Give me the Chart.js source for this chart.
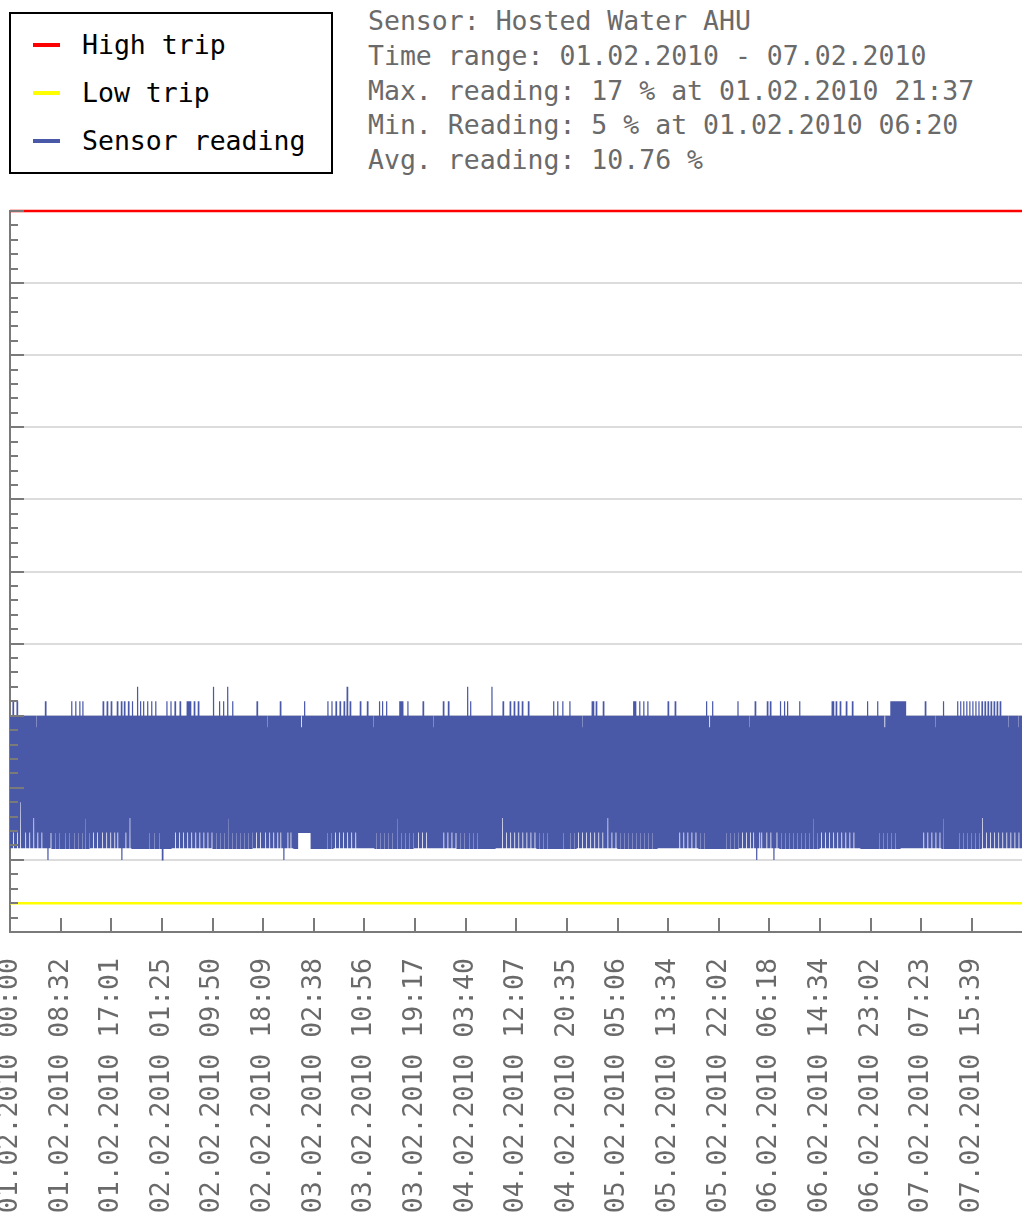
<!DOCTYPE html>
<html>
<head>
<meta charset="utf-8">
<script src="https://cdn.jsdelivr.net/npm/chart.js@4.4.0/dist/chart.umd.min.js"></script>
<style>
html,body{margin:0;padding:0;width:1022px;height:1214px;overflow:hidden;background:#fff;}
body{position:relative;font-family:"DejaVu Sans Mono",monospace;}
#legend{position:absolute;left:9px;top:12px;width:324px;height:162px;border:2px solid #000;box-sizing:border-box;}
.item{position:absolute;left:0;width:300px;height:34px;}
.sym{position:absolute;left:22px;top:15px;width:27px;height:4px;}
.lbl{position:absolute;left:71px;top:0;line-height:34px;font-size:26.5px;color:#000;white-space:nowrap;}
#info{position:absolute;left:368px;top:4px;font-size:26.5px;line-height:34.75px;color:#6a6a6a;white-space:pre;}
#wrap{position:absolute;left:0;top:190px;width:1022px;height:1110px;}
</style>
</head>
<body>
<div id="legend"></div>
<div id="info"></div>
<div id="wrap"><canvas id="c"></canvas></div>
<script>
// ---- data ----
const seriesNames = ["High trip", "Low trip", "Sensor reading"];
const highTrip = 50;
const lowTrip = 2;
const infoLines = [
  "Sensor: Hosted Water AHU",
  "Time range: 01.02.2010 - 07.02.2010",
  "Max. reading: 17 % at 01.02.2010 21:37",
  "Min. Reading: 5 % at 01.02.2010 06:20",
  "Avg. reading: 10.76 %"
];
const tickLabels = [
  "01.02.2010 00:00","01.02.2010 08:32","01.02.2010 17:01","02.02.2010 01:25",
  "02.02.2010 09:50","02.02.2010 18:09","03.02.2010 02:38","03.02.2010 10:56",
  "03.02.2010 19:17","04.02.2010 03:40","04.02.2010 12:07","04.02.2010 20:35",
  "05.02.2010 05:06","05.02.2010 13:34","05.02.2010 22:02","06.02.2010 06:18",
  "06.02.2010 14:34","06.02.2010 23:02","07.02.2010 07:23","07.02.2010 15:39"
];
const samplesPerTick = 100;
// upper readings of each oscillation (one per pair of samples)
const highs = [
15,15,15,16,15,15,15,16,15,15,15,15,15,15,15,15,15,15,15,15,15,15,15,15,15,15,14.2,15,15,15,15,15,15,15,15,16,15,15,15,15,15,15,15,15,15,15,15,15,15,15,
15,15,15,15,15,15,15,15,15,15,15,16,15,15,15,16,15,15,15,16,15,15,16,15,15,15,15,15,15,15,15,15,15,15,15,15,15,15,15,15,15,15,16,15,15,15,16,15,15,15,
16,15,15,15,15,15,16,15,15,15,16,15,15,16,15,15,15,16,15,15,15,16,15,15,15,15,17,15,15,16,15,15,16,15,15,15,16,15,15,15,16,15,15,15,16,15,15,15,15,15,
15,15,15,15,15,16,15,15,15,16,15,15,15,16,15,15,15,15,16,15,15,15,15,15,15,16,16,16,16,15,15,15,16,15,15,15,16,15,15,15,15,15,15,15,15,15,15,15,15,15,
15,17,15,15,15,15,15,16,15,15,15,16,15,15,15,17,15,15,15,15,16,15,15,15,15,15,15,15,15,15,15,15,15,15,15,15,15,15,15,15,15,15,15,15,16,15,15,15,15,15,
15,15,15,15,14.2,15,15,15,15,15,15,15,15,15,15,15,15,16,15,15,15,15,15,15,15,15,15,15,15,15,15,15,15,15,15,15,15,15,14.2,15,15,16,15,15,15,15,15,15,15,15,
15,15,15,15,15,15,15,15,15,15,15,15,15,15,16,15,15,15,16,15,15,15,16,15,15,15,16,15,15,15,16,15,15,17,15,15,16,15,15,15,15,15,15,15,15,15,16,15,15,15,
15,15,15,16,15,15,15,15,15,14.2,15,15,15,15,15,16,15,15,16,15,15,15,16,15,15,15,15,15,15,15,15,15,15,15,15,16,16,16,16,15,15,15,15,16,15,15,15,15,15,15,
15,15,15,15,15,15,15,15,16,15,15,15,15,15,15,15,15,15,14.2,15,15,15,15,15,15,15,15,15,16,15,15,15,15,16,15,15,15,15,15,15,15,15,15,15,15,15,15,15,15,15,
15,15,17,15,15,16,15,15,15,15,15,15,15,15,15,15,15,15,15,15,15,15,15,15,15,15,17,15,15,15,15,15,15,15,15,15,15,16,15,15,15,15,15,15,16,15,15,15,16,15,
15,15,16,15,15,15,16,15,15,15,15,15,16,15,15,15,15,15,15,15,15,15,15,15,15,15,15,15,15,15,15,15,15,15,15,15,15,16,15,15,15,16,15,15,15,15,16,15,15,15,
15,15,15,16,15,15,15,15,15,15,15,15,15,15,15,14.2,15,15,15,15,15,15,15,15,15,16,16,15,15,16,15,15,15,15,15,15,16,15,15,15,15,15,15,15,15,15,15,15,15,15,
15,15,15,15,15,15,15,15,15,15,15,15,15,15,15,15,16,16,16,15,15,15,16,15,15,15,16,15,15,15,16,15,15,15,15,15,15,15,15,15,15,15,15,15,15,15,15,15,15,15,
16,15,15,15,15,15,15,16,15,15,15,15,15,15,15,15,15,15,15,15,15,15,15,15,15,15,15,15,15,15,15,15,15,15,15,15,15,15,16,15,15,14.2,15,15,16,15,15,15,15,15,
15,15,15,15,15,15,15,15,15,15,15,15,15,15,15,15,15,15,15,16,15,15,15,15,15,15,15,15,15,15,14.2,15,15,15,15,15,16,15,15,15,15,15,15,15,15,15,15,15,16,15,
15,16,15,15,15,15,15,15,15,15,15,16,15,15,15,16,15,15,16,15,15,15,15,15,15,15,15,15,15,15,16,15,15,15,15,15,15,15,15,15,15,15,15,15,15,15,15,15,15,15,
15,15,15,15,15,15,15,15,15,15,15,15,16,16,15,15,16,15,15,15,16,15,15,15,15,15,16,15,15,15,15,15,16,15,15,15,15,15,15,15,15,15,15,15,15,15,15,16,15,15,
15,15,15,15,15,15,15,16,15,15,15,15,15,15,14.2,15,15,15,15,15,16,16,16,16,16,16,16,16,16,16,16,16,16,16,16,15,15,15,15,15,15,15,15,15,15,15,15,15,15,15,
15,15,15,15,16,15,15,15,15,15,15,15,15,15,14.2,15,15,15,15,15,15,15,16,15,15,15,15,15,15,15,15,15,15,15,15,15,16,15,15,16,15,15,16,15,15,16,15,15,16,15,
15,16,15,15,16,15,15,16,15,15,16,15,15,16,15,15,16,15,15,16,15,15,16,15,15,16,15,15,16,15,15,15,15,15,15,15,14.2,15,15,15,15,15,15,15,15,15,14.2,15,15,15
];
// lower readings of each oscillation
const lows = [
5.8,5.8,5.8,6.9,5.8,5.8,5.8,6.9,5.8,5.8,9,5.8,5.8,5.8,5.8,6.9,5.8,5.8,5.8,6.9,5.8,5.8,5.8,7.9,5.8,5.8,5.8,6.9,5.8,5.8,5.8,6.9,5.8,5.8,5.8,5.8,5.8,5,5.8,5.8,6.9,5.8,5.8,5.8,6.9,5.8,5.8,5.8,6.9,5.8,
5.8,5.8,5.8,5.8,6.9,5.8,5.8,5.8,6.9,5.8,5.8,5.8,5.8,6.9,5.8,5.8,5.8,6.9,5.8,5.8,5.8,6.9,5.8,5.8,7.9,5.8,5.8,5.8,6.9,5.8,5.8,5.8,6.9,5.8,5.8,5.8,6.9,5.8,5.8,5.8,5.8,6.9,5.8,5.8,5.8,6.9,5.8,5.8,5.8,6.9,
5.8,5.8,5.8,6.9,5.8,5.8,6.9,5.8,5.8,5.8,5,5.8,5.8,5.8,6.9,5.8,5.8,5.8,7.9,5.8,5.8,5.8,5.8,5.8,5.8,5.8,5.8,5.8,5.8,5.8,5.8,5.8,5.8,5.8,5.8,5.8,5.8,6.9,5.8,5.8,5.8,5.8,6.9,5.8,5.8,5.8,5.8,6.9,5.8,5.8,
5,5.8,5.8,5.8,5.8,5.8,5.8,5.8,5.8,5.8,5.8,5.8,5.8,6.9,5.8,5.8,5.8,6.9,5.8,5.8,5.8,6.9,5.8,5.8,5.8,6.9,5.8,5.8,5.8,6.9,5.8,5.8,5.8,6.9,5.8,5.8,5.8,6.9,5.8,5.8,5.8,6.9,5.8,5.8,5.8,6.9,5.8,5.8,5.8,6.9,
5.8,5.8,5.8,6.9,5.8,5.8,5.8,6.9,5.8,5.8,5.8,6.9,5.8,5.8,5.8,7.9,5.8,5.8,5.8,6.9,5.8,5.8,5.8,6.9,5.8,5.8,5.8,6.9,5.8,5.8,5.8,6.9,5.8,5.8,5.8,6.9,5.8,5.8,5.8,6.9,5.8,5.8,5.8,6.9,5.8,5.8,5.8,6.9,5.8,5.8,
5.8,5.8,6.9,5.8,5.8,5.8,6.9,5.8,5.8,5.8,6.9,5.8,5.8,5.8,6.9,5.8,5.8,6.9,5.8,5.8,5,5.8,5.8,5.8,6.9,5.8,5.8,6.9,5.8,5.8,5.8,5.8,5.8,5.8,6.9,6.9,6.9,6.9,6.9,6.9,6.9,6.9,6.9,6.9,6.9,6.9,6.9,5.8,5.8,5.8,
5.8,5.8,5.8,5.8,5.8,5.8,5.8,5.8,5.8,5.8,5.8,5.8,5.8,6.9,5.8,5.8,5.8,6.9,5.8,5.8,5.8,6.9,5.8,5.8,5.8,6.9,5.8,5.8,5.8,6.9,5.8,5.8,5.8,6.9,5.8,5.8,5.8,6.9,5.8,5.8,5.8,6.9,5.8,5.8,5.8,5.8,5.8,5.8,5.8,5.8,
5.8,5.8,5.8,5.8,5.8,5.8,5.8,5.8,5.8,5.8,5.8,6.9,5.8,5.8,5.8,6.9,5.8,5.8,5.8,6.9,5.8,5.8,5.8,6.9,5.8,5.8,5.8,6.9,5.8,5.8,5.8,5.8,7.9,5.8,5.8,5.8,6.9,5.8,5.8,5.8,6.9,5.8,5.8,5.8,6.9,5.8,5.8,5.8,6.9,5.8,
5.8,5.8,5.8,6.9,5.8,5.8,5.8,6.9,5.8,5.8,5.8,6.9,5.8,5.8,5.8,5.8,5.8,5.8,5.8,5.8,5.8,5.8,5.8,5.8,5.8,5.8,5.8,5.8,6.9,5.8,5.8,5.8,6.9,5.8,5.8,5.8,6.9,5.8,5.8,5.8,6.9,5.8,5.8,5.8,6.9,5.8,5.8,5.8,6.9,5.8,
5.8,5.8,5.8,6.9,5.8,5.8,5.8,6.9,5.8,5.8,5.8,6.9,5.8,5.8,5.8,5.8,5.8,5.8,5.8,5.8,5.8,5.8,5.8,5.8,5.8,5.8,5.8,5.8,5.8,5.8,5.8,5.8,5.8,5.8,5.8,5.8,7.9,5.8,5.8,5.8,6.9,5.8,5.8,5.8,6.9,5.8,5.8,5.8,6.9,5.8,
5.8,5.8,6.9,5.8,5.8,5.8,6.9,5.8,5.8,5.8,6.9,5.8,5.8,5.8,6.9,5.8,5.8,5.8,6.9,5.8,5.8,5.8,6.9,5.8,5.8,5.8,6.9,5.8,5.8,5.8,6.9,5.8,5.8,5.8,5.8,5.8,5.8,5.8,5.8,5.8,5.8,5.8,5.8,5.8,5.8,5.8,6.9,5.8,5.8,5.8,
5.8,5.8,5.8,6.9,5.8,5.8,5.8,6.9,5.8,5.8,5.8,6.9,5.8,5.8,5.8,6.9,5.8,5.8,5.8,6.9,5.8,5.8,5.8,6.9,5.8,5.8,5.8,6.9,5.8,5.8,5.8,6.9,5.8,5.8,5.8,6.9,5.8,5.8,5.8,5.8,7.9,5.8,5.8,5.8,6.9,5.8,5.8,5.8,6.9,5.8,
5.8,5.8,6.9,5.8,5.8,5.8,6.9,5.8,5.8,5.8,6.9,5.8,5.8,5.8,6.9,5.8,5.8,5.8,6.9,5.8,5.8,5.8,6.9,5.8,5.8,5.8,6.9,5.8,5.8,5.8,6.9,5.8,5.8,5.8,6.9,5.8,5.8,5.8,5.8,5.8,5.8,5.8,5.8,5.8,5.8,5.8,5.8,5.8,5.8,5.8,
5.8,5.8,5.8,5.8,5.8,5.8,5.8,5.8,5.8,5.8,5.8,6.9,5.8,5.8,5.8,6.9,5.8,5.8,5.8,6.9,5.8,5.8,5.8,6.9,5.8,5.8,5.8,6.9,5.8,5.8,5.8,6.9,5.8,5.8,5.8,6.9,5.8,5.8,5.8,5.8,5.8,5.8,5.8,5.8,5.8,5.8,5.8,5.8,5.8,5.8,
5.8,5.8,5.8,5.8,5.8,5.8,5.8,6.9,5.8,5.8,5.8,6.9,5.8,5.8,5.8,6.9,5.8,5.8,5.8,6.9,5.8,5.8,5.8,6.9,5.8,5.8,5.8,6.9,5.8,5.8,5.8,6.9,5.8,5.8,6.9,5.8,5.8,5,5.8,5.8,6.9,5.8,6.9,5.8,5.8,5.8,5.8,6.9,5.8,5.8,
5.8,6.9,5.8,5.8,5,5.8,5.8,6.9,5.8,5.8,5.8,6.9,5.8,5.8,5.8,6.9,5.8,5.8,5.8,6.9,5.8,5.8,5.8,6.9,5.8,5.8,5.8,6.9,5.8,5.8,5.8,6.9,5.8,5.8,5.8,6.9,5.8,5.8,5.8,6.9,5.8,5.8,5.8,7.9,5.8,5.8,5.8,6.9,5.8,5.8,
5.8,6.9,5.8,5.8,5.8,6.9,5.8,5.8,5.8,6.9,5.8,5.8,5.8,6.9,5.8,5.8,5.8,6.9,5.8,5.8,5.8,6.9,5.8,5.8,5.8,6.9,5.8,5.8,5.8,6.9,5.8,5.8,5.8,6.9,5.8,5.8,5.8,5.8,5.8,5.8,5.8,5.8,5.8,5.8,5.8,5.8,5.8,5.8,5.8,5.8,
5.8,5.8,5.8,5.8,5.8,5.8,5.8,5.8,6.9,5.8,5.8,5.8,6.9,5.8,5.8,5.8,6.9,5.8,5.8,5.8,6.9,5.8,5.8,5.8,6.9,5.8,5.8,5.8,5.8,5.8,5.8,5.8,5.8,5.8,5.8,5.8,5.8,5.8,5.8,5.8,5.8,5.8,5.8,5.8,5.8,5.8,5.8,5.8,5.8,5.8,
5.8,5.8,6.9,5.8,5.8,5.8,6.9,5.8,5.8,5.8,6.9,5.8,5.8,5.8,6.9,5.8,5.8,5.8,6.9,5.8,5.8,7.9,5.8,5.8,5.8,5.8,5.8,5.8,5.8,5.8,5.8,5.8,5.8,5.8,5.8,5.8,5.8,6.9,5.8,5.8,5.8,6.9,5.8,5.8,5.8,6.9,5.8,5.8,5.8,6.9,
5.8,5.8,5.8,6.9,5.8,5.8,5.8,6.9,5.8,5.8,7.9,5.8,5.8,5.8,6.9,5.8,5.8,5.8,6.9,5.8,5.8,5.8,6.9,5.8,5.8,5.8,6.9,5.8,5.8,5.8,6.9,5.8,5.8,5.8,6.9,5.8,5.8,5.8,6.9,5.8,5.8,5.8,6.9,5.8,5.8,5.8,6.9,5.8,5.8,5.8
];
const yMin = 0, yMax = 50, yMajorStep = 5, yMinorStep = 1;

// ---- styles ----
const colors = ["#ff0000", "#ffff00", "#4a58a8"];
const axisColor = "#7a7a7a";
const gridColor = "#dcdcdc";
const textGray = "#6a6a6a";
const monoFont = "'DejaVu Sans Mono', monospace";

// legend + info as real text
const legendEl = document.getElementById('legend');
seriesNames.forEach((name, i) => {
  const it = document.createElement('div');
  it.className = 'item';
  it.style.top = (14 + 48 * i) + 'px';
  it.innerHTML = '<div class="sym" style="background:' + colors[i] + '"></div><span class="lbl"></span>';
  it.querySelector('.lbl').textContent = name;
  legendEl.appendChild(it);
});
document.getElementById('info').textContent = infoLines.join('\n');

// build the sensor series (alternating upper/lower readings)
const readings = [];
for (let i = 0; i < highs.length; i++) { readings.push(highs[i]); readings.push(lows[i]); }
const sensorPoints = readings.map((v, i) => ({ x: i, y: v }));
const xMax = readings.length - 1;

const axisTicks = {
  id: 'axisTicks',
  afterDatasetsDraw(chart) {
    const { ctx, chartArea, scales } = chart;
    const ys = scales.y, xs = scales.x;
    ctx.save();
    ctx.strokeStyle = axisColor;
    ctx.lineWidth = 2;
    ctx.beginPath();
    for (let v = yMin; v <= yMax; v += yMinorStep) {
      const py = Math.round(ys.getPixelForValue(v));
      const len = (v % yMajorStep === 0) ? 14 : 8;
      ctx.moveTo(chartArea.left, py);
      ctx.lineTo(chartArea.left + len, py);
    }
    xs.ticks.forEach(t => {
      const px = Math.round(xs.getPixelForValue(t.value));
      ctx.moveTo(px, chartArea.bottom);
      ctx.lineTo(px, chartArea.bottom - 14);
    });
    ctx.stroke();
    ctx.restore();
  }
};

new Chart(document.getElementById('c'), {
  type: 'line',
  data: {
    datasets: [
      { label: seriesNames[0], data: [{ x: 0, y: highTrip }, { x: xMax, y: highTrip }], borderColor: colors[0], borderWidth: 2.5, pointRadius: 0, clip: false },
      { label: seriesNames[1], data: [{ x: 0, y: lowTrip }, { x: xMax, y: lowTrip }], borderColor: colors[1], borderWidth: 2.5, pointRadius: 0, clip: false },
      { label: seriesNames[2], data: sensorPoints, borderColor: colors[2], borderWidth: 1.2, pointRadius: 0, tension: 0 }
    ]
  },
  options: {
    responsive: true,
    maintainAspectRatio: false,
    devicePixelRatio: 1,
    animation: false,
    parsing: false,
    normalized: true,
    layout: { padding: { top: 21, left: 0, right: 0, bottom: 0 } },
    plugins: { legend: { display: false }, tooltip: { enabled: false } },
    scales: {
      x: {
        type: 'linear',
        min: 0,
        max: xMax,
        grid: { display: false, drawTicks: false },
        border: { display: true, color: axisColor, width: 2 },
        afterBuildTicks(scale) {
          scale.ticks = tickLabels.map((_, i) => ({ value: i * samplesPerTick }));
        },
        afterFit(scale) { scale.height = 368; scale.paddingLeft = 0; scale.paddingRight = 0; },
        ticks: {
          autoSkip: false,
          maxRotation: 90,
          minRotation: 90,
          padding: 26,
          color: textGray,
          font: { family: monoFont, size: 26.5 },
          callback(value) { return tickLabels[Math.round(value / samplesPerTick)]; }
        }
      },
      y: {
        type: 'linear',
        min: yMin,
        max: yMax,
        afterFit(scale) { scale.width = 10; },
        ticks: { display: false, stepSize: yMinorStep },
        grid: {
          drawTicks: false,
          lineWidth: 2,
          color: (c) => (c.tick && c.tick.value % yMajorStep === 0) ? gridColor : 'rgba(0,0,0,0)'
        },
        border: { display: true, color: axisColor, width: 2 }
      }
    }
  },
  plugins: [axisTicks]
});
</script>
</body>
</html>
